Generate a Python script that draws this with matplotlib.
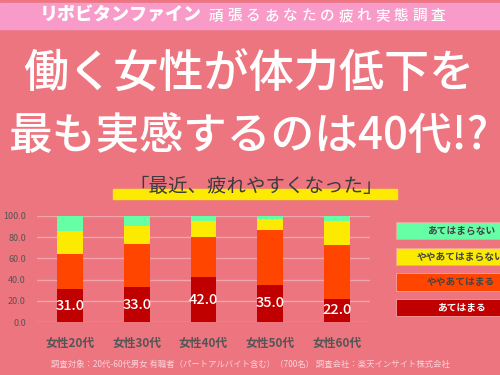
import numpy as np
import matplotlib.pyplot as plt
from matplotlib.patches import Rectangle

plt.rcParams['font.family'] = ['Noto Sans CJK JP', 'DejaVu Sans']

groups = ['女性20代', '女性30代', '女性40代', '女性50代', '女性60代']
atehamaru = [31.0, 33.0, 42.0, 35.0, 22.0]
yaya_atehamaru = [33.0, 41.0, 38.0, 52.0, 51.0]
yaya_atehamaranai = [22.0, 17.0, 15.0, 10.0, 22.0]
atehamaranai = [14.0, 9.0, 5.0, 3.0, 5.0]
yticks = [0, 20, 40, 60, 80, 100]

series = [atehamaru, yaya_atehamaru, yaya_atehamaranai, atehamaranai]
names = ['あてはまる', 'ややあてはまる', 'ややあてはまらない', 'あてはまらない']
colors = ['#C00000', '#FF4500', '#FCEB00', '#66FFA6']

bg = '#EC7580'
W, H = 500, 375


def fx(x):
    return x / W


def fy(y):
    return 1 - y / H


fig = plt.figure(figsize=(5, 3.75), dpi=100, facecolor=bg)

# top banner
fig.patches.append(Rectangle((0, fy(29)), 1, (29 - 3) / H, transform=fig.transFigure,
                             color='#F99BC9', zorder=0))
fig.text(fx(121), fy(15), 'リポビタンファイン', color='white', fontsize=13,
         fontweight='black', ha='center', va='center')
tag = '頑張るあなたの疲れ実態調査'
for i, ch in enumerate(tag):
    fig.text(fx(216 + i * 18.5), fy(16), ch, color='white', fontsize=10.5,
             ha='center', va='center', fontweight='medium')

# headline
fig.text(fx(249), fy(73), '働く女性が体力低下を', color='white', fontsize=32.5,
         ha='center', va='center', fontweight='medium')
fig.text(fx(249), fy(137), '最も実感するのは40代!?', color='white', fontsize=31.5,
         ha='center', va='center', fontweight='medium')

# subtitle with yellow highlight
fig.patches.append(Rectangle((fx(113), fy(199)), (397 - 113) / W, 10 / H,
                             transform=fig.transFigure, color='#FCEB00', zorder=0))
fig.text(fx(256), fy(186), '「最近、疲れやすくなった」', color='#3C3C3C', fontsize=14,
         ha='center', va='center')

# chart
ax = fig.add_axes([fx(37), (H - 322) / H, 333 / W, 106 / H])
ax.set_facecolor(bg)
x = np.arange(len(groups))
bottom = np.zeros(len(groups))
for vals, c in zip(series, colors):
    ax.bar(x, vals, 0.39, bottom=bottom, color=c, zorder=2)
    bottom += np.array(vals)

for xi, v in zip(x, atehamaru):
    ax.text(xi, v / 2, f'{v:.1f}', color='white', fontsize=10.5, ha='center',
            va='center', zorder=3, fontweight='medium')

ax.set_xlim(-0.5, 4.5)
ax.set_ylim(0, 100)
ax.set_yticks(yticks)
ax.set_yticklabels([f'{t:.1f}' for t in yticks])
ax.yaxis.grid(True, color='#F5A3AA', linewidth=1, zorder=0)
ax.set_xticks(x)
ax.set_xticklabels(groups)
for s in ax.spines.values():
    s.set_visible(False)
ax.tick_params(axis='y', length=0, pad=8, labelsize=6.5, labelcolor='#555555')
ax.tick_params(axis='x', length=0, pad=11, labelsize=8.5, labelcolor='#555555')
for lbl in ax.get_xticklabels():
    lbl.set_fontweight('bold')
for lbl in ax.get_yticklabels():
    lbl.set_clip_on(False)

# legend boxes
legend_rows = [(222, 239), (248, 265), (273, 291), (299, 316)]
for (y0, y1), name, c in zip(legend_rows, names[::-1], colors[::-1]):
    fig.patches.append(Rectangle((fx(396), fy(y1)), (W - 396) / W, (y1 - y0) / H,
                                 transform=fig.transFigure, facecolor=c,
                                 edgecolor='#F7A0A0', linewidth=0.6, zorder=1))
    tc = 'white' if c == '#C00000' else '#444444'
    fig.text(fx(461), fy((y0 + y1) / 2), name, color=tc, fontsize=7,
             ha='center', va='center', fontweight='bold')

# footer
fig.text(fx(250), fy(364),
         '調査対象：20代-60代男女 有職者（パートアルバイト含む）（700名） 調査会社：楽天インサイト株式会社',
         color='#FAD3DA', fontsize=6.0, ha='center', va='center')

fig.savefig('out.png', dpi=100, facecolor=bg)
